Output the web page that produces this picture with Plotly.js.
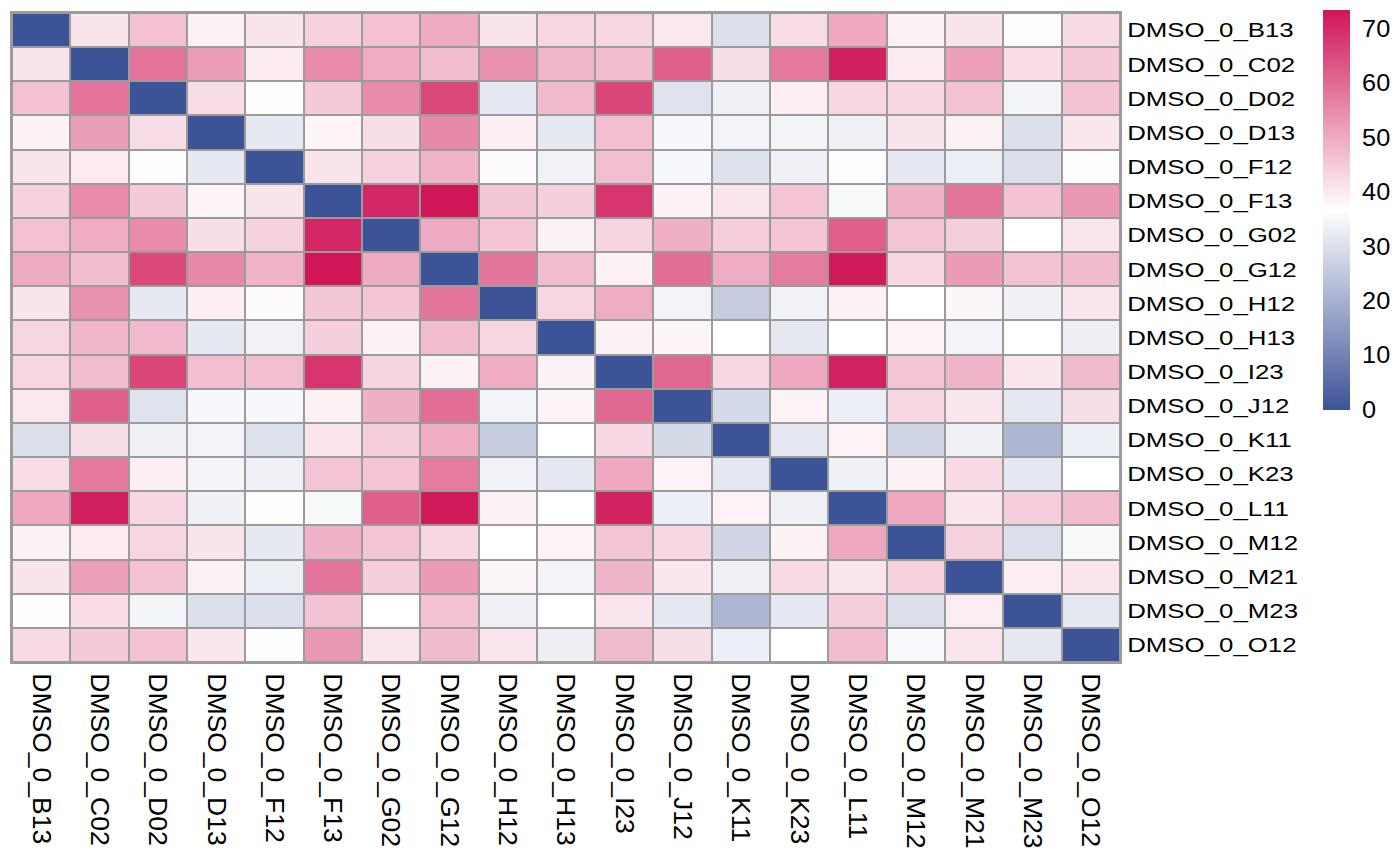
<!DOCTYPE html>
<html>
<head>
<meta charset="utf-8">
<script src="https://cdn.plot.ly/plotly-3.0.1.min.js"></script>
<style>html,body{margin:0;padding:0;background:#ffffff;}</style>
</head>
<body>
<div id="chart" style="width:1400px;height:866px;"></div>
<script>
// Sample names (rows top-to-bottom, columns left-to-right)
const samples = ["DMSO_0_B13","DMSO_0_C02","DMSO_0_D02","DMSO_0_D13","DMSO_0_F12","DMSO_0_F13","DMSO_0_G02","DMSO_0_G12","DMSO_0_H12","DMSO_0_H13","DMSO_0_I23","DMSO_0_J12","DMSO_0_K11","DMSO_0_K23","DMSO_0_L11","DMSO_0_M12","DMSO_0_M21","DMSO_0_M23","DMSO_0_O12"];

// Matrix rows
const row_B13 = [0, 41, 46.5, 39, 41, 44, 46.5, 50, 41, 43.3, 43.3, 40.4, 30, 42.2, 50.4, 39, 41, 36.5, 42.6];
const row_C02 = [41, 0, 58.7, 52, 40, 55, 49.6, 47.3, 54, 48.2, 47.3, 61.9, 42, 58, 71.9, 40, 51.8, 42.2, 45];
const row_D02 = [46.5, 58.7, 0, 42.1, 36.5, 45, 55, 65.5, 32, 47.7, 66, 30.7, 33.5, 39.4, 43.2, 43.2, 46.4, 34.7, 46.3];
const row_D13 = [39, 52, 42.1, 0, 32, 38.3, 42, 55.3, 39.4, 32, 47, 35.2, 34.5, 34.6, 33.8, 41, 39, 30, 40.5];
const row_F12 = [41, 40, 36.5, 32, 0, 41, 44, 48.7, 37.4, 34, 46.8, 35.2, 30.5, 33.8, 36.4, 32, 33.2, 30, 36.4];
const row_F13 = [44, 55, 45, 38.3, 41, 0, 70.5, 73.5, 45.5, 44.3, 68.5, 39, 40.8, 46, 35.5, 49, 58.5, 46.3, 52.9];
const row_G02 = [46.5, 49.6, 55, 42, 44, 70.5, 0, 49.8, 45.8, 39, 43.5, 49.2, 44.6, 45.8, 62, 46, 44.4, 36.75, 40.8];
const row_G12 = [50, 47.3, 65.5, 55.3, 48.7, 73.5, 49.8, 0, 58.5, 47.3, 39, 59.5, 49.6, 57.5, 72.7, 43, 52.5, 46.3, 47.5];
const row_H12 = [41, 54, 32, 39.4, 37.4, 45.5, 45.8, 58.5, 0, 43.2, 49.6, 34.5, 25.8, 34, 38.8, 36.75, 38.2, 33.8, 40.8];
const row_H13 = [43.3, 48.2, 47.7, 32, 34, 44.3, 39, 47.3, 43.2, 0, 39, 38.4, 36.75, 31.8, 36.75, 38.7, 34.5, 36.75, 33.3];
const row_I23 = [43.3, 47.3, 66, 47, 46.8, 68.5, 43.5, 39, 49.6, 39, 0, 60.5, 43, 50.4, 71.5, 46, 48.5, 40.8, 47.5];
const row_J12 = [40.4, 61.9, 30.7, 35.2, 35.2, 39, 49.2, 59.5, 34.5, 38.4, 60.5, 0, 28.8, 38.6, 33.4, 43, 40.6, 31.8, 42];
const row_K11 = [30, 42, 33.5, 34.5, 30.5, 40.8, 44.6, 49.6, 25.8, 36.75, 43, 28.8, 0, 31.8, 38.6, 28, 33.8, 21.2, 33.4];
const row_K23 = [42.2, 58, 39.4, 34.6, 33.8, 46, 45.8, 57.5, 34, 31.8, 50.4, 38.6, 31.8, 0, 33.7, 39, 42.6, 31.8, 36.75];
const row_L11 = [50.4, 71.9, 43.2, 33.8, 36.4, 35.5, 62, 72.7, 38.8, 36.75, 71.5, 33.4, 38.6, 33.7, 0, 50.5, 40.8, 44.6, 47.3];
const row_M12 = [39, 40, 43.2, 41, 32, 49, 46, 43, 36.75, 38.7, 46, 43, 28, 39, 50.5, 0, 44.2, 30, 35.4];
const row_M21 = [41, 51.8, 46.4, 39, 33.2, 58.5, 44.4, 52.5, 38.2, 34.5, 48.5, 40.6, 33.8, 42.6, 40.8, 44.2, 0, 39.6, 40.8];
const row_M23 = [36.5, 42.2, 34.7, 30, 30, 46.3, 36.75, 46.3, 33.8, 36.75, 40.8, 31.8, 21.2, 31.8, 44.6, 30, 39.6, 0, 31.8];
const row_O12 = [42.6, 45, 46.3, 40.5, 36.4, 52.9, 40.8, 47.5, 40.8, 33.3, 47.5, 42, 33.4, 36.75, 47.3, 35.4, 40.8, 31.8, 0];

// Colour bar ticks
const cbTickVals = [0, 10, 20, 30, 40, 50, 60, 70];
const cbTickText = ["0", "10", "20", "30", "40", "50", "60", "70"];

const zMatrix = [row_B13, row_C02, row_D02, row_D13, row_F12, row_F13, row_G02, row_G12, row_H12, row_H13,
                 row_I23, row_J12, row_K11, row_K23, row_L11, row_M12, row_M21, row_M23, row_O12];

const FONT = "Liberation Sans, Arial, Helvetica, sans-serif";
const W = 1400, H = 866;

const trace = {
  type: "heatmap",
  x: samples,
  y: samples,
  z: zMatrix,
  zmin: 0,
  zmax: 73.5,
  colorscale: [[0, "#3D5397"], [0.5, "#FFFFFF"], [1, "#D01558"]],
  xgap: 2,
  ygap: 2,
  hoverongaps: false,
  colorbar: {
    xref: "container", yref: "container",
    x: 1323 / W, xanchor: "left",
    y: (H - 13) / H, yanchor: "top",
    thickness: 27, thicknessmode: "pixels",
    len: 400, lenmode: "pixels",
    xpad: 0, ypad: 0,
    outlinewidth: 0,
    ticks: "",
    tickvals: cbTickVals,
    ticktext: cbTickText,
    tickfont: {family: FONT, size: 23, color: "#000000"}
  }
};

const layout = {
  width: W, height: H,
  margin: {l: 12, r: 280, t: 13, b: 204},
  paper_bgcolor: "#ffffff",
  plot_bgcolor: "#9B9B9B",
  font: {family: FONT, color: "#000000"},
  xaxis: {
    type: "category",
    tickangle: 90,
    tickfont: {family: FONT, size: 26.5, color: "#000000"},
    showgrid: false, zeroline: false, ticks: "",
    showline: true, mirror: true, linecolor: "#9B9B9B", linewidth: 2,
    ticklabelstandoff: 4
  },
  yaxis: {
    type: "category",
    autorange: "reversed",
    side: "right",
    tickfont: {family: FONT, size: 21, color: "#000000"},
    showgrid: false, zeroline: false, ticks: "",
    showline: true, mirror: true, linecolor: "#9B9B9B", linewidth: 2,
    ticklabelstandoff: 1
  },
  showlegend: false
};

Plotly.newPlot("chart", [trace], layout, {displayModeBar: false, staticPlot: true}).then(function (gd) {
  // widen horizontal labels to match the reference's wide lettering
  function stretch(selector, sx, dx) {
    gd.querySelectorAll(selector).forEach(function (t) {
      const w = t.getComputedTextLength();
      if (w > 0) {
        t.setAttribute("textLength", (w * sx).toFixed(2));
        t.setAttribute("lengthAdjust", "spacingAndGlyphs");
      }
      if (dx) {
        const x0 = parseFloat(t.getAttribute("x") || "0");
        t.setAttribute("x", (x0 + dx).toFixed(2));
      }
    });
  }
  stretch(".yaxislayer-above text", 1.23, 0);
  stretch(".colorbar text", 1.1, 7);
});
</script>
</body>
</html>
